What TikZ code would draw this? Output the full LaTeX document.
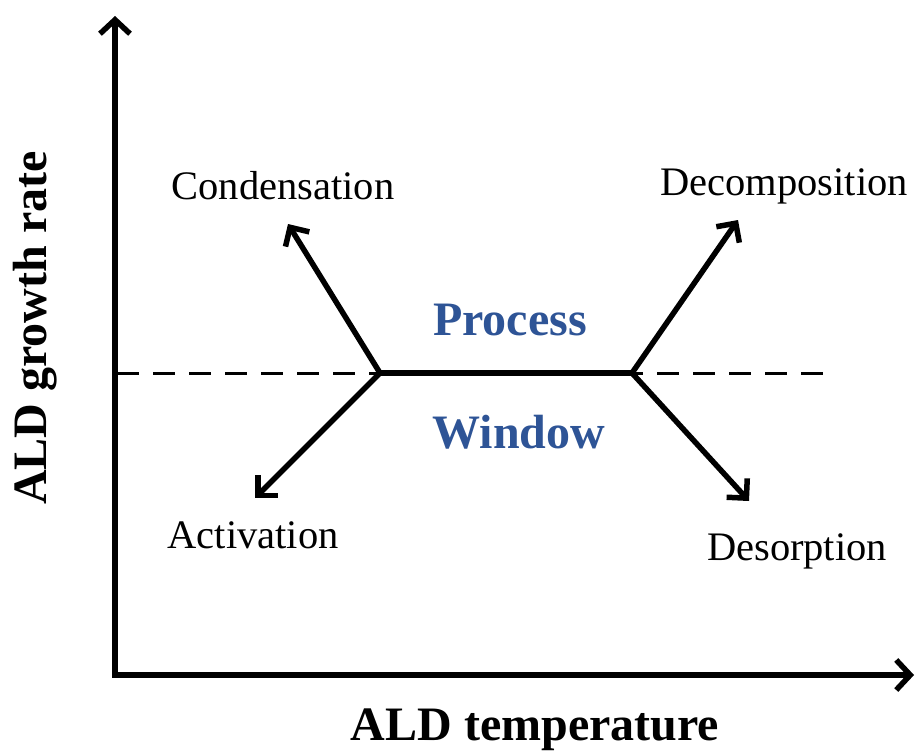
\documentclass[tikz,border=0pt]{standalone}
\usepackage{fontspec}
\setmainfont{Liberation Serif}
\usetikzlibrary{arrows.meta}
\definecolor{pwblue}{RGB}{46,84,150}
\begin{document}
\begin{tikzpicture}[x=1pt,y=-1pt,
  arr/.style={line width=5.5pt,-{Straight Barb[length=14pt,width=28pt,line width=5.5pt]}},
  axis/.style={line width=6pt,line cap=rect,-{Straight Barb[length=14pt,width=30pt,line width=5.5pt]}},
  lbl/.style={font=\fontsize{40.5}{46}\selectfont,inner sep=0pt},
  big/.style={font=\fontsize{48}{54}\selectfont\bfseries,inner sep=0pt},
  pw/.style={big,text=pwblue}]
\useasboundingbox (0,0) rectangle (920,755);
\coordinate (O) at (115,675);
\coordinate (ytop) at (115,16);
\coordinate (xend) at (914,675);
\draw[axis] (O) -- (ytop);
\draw[axis] (O) -- (xend);
\coordinate (dl) at (117,373);
\coordinate (dr) at (832,373);
\coordinate (jl) at (380,373);
\coordinate (jr) at (632,373);
\draw[line width=3pt,dash pattern=on 22pt off 14pt] (dl) -- (dr);
\draw[line width=5.5pt] (jl) -- (jr);
\coordinate (cond) at (288,224);
\coordinate (act) at (255,498);
\coordinate (dec) at (738,220);
\coordinate (des) at (749,501);
\draw[arr] (jl) -- (cond);
\draw[arr] (jl) -- (act);
\draw[arr] (jr) -- (dec);
\draw[arr] (jr) -- (des);
\node[lbl] (tc) at (283,186) {Condensation};
\node[lbl] (ta) at (253,535) {Activation};
\node[lbl] (td) at (784,186) {Decomposition};
\node[lbl] (ts) at (797,551) {Desorption};
\node[pw] (tp) at (510,320) {Process};
\node[pw] (tw) at (519,432) {Window};
\node[big] (tx) at (535,730) {ALD temperature};
\node[big,rotate=90] (ty) at (35,328) {ALD growth rate};
\end{tikzpicture}
\end{document}
